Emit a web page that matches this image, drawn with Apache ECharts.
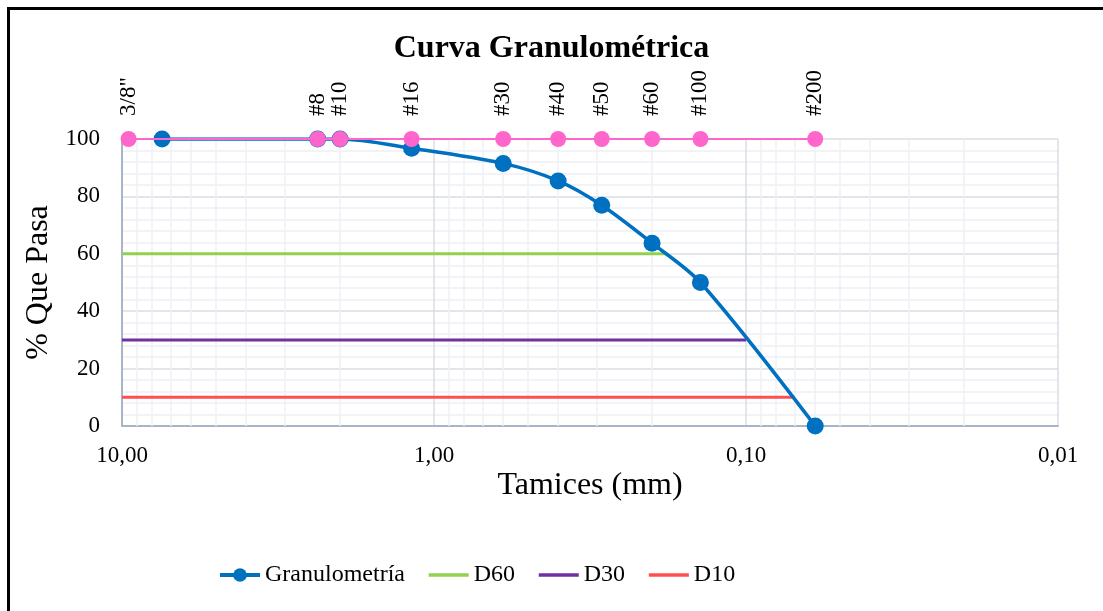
<!DOCTYPE html>
<html>
<head>
<meta charset="utf-8">
<script src="https://cdn.jsdelivr.net/npm/echarts@6/dist/echarts.min.js"></script>
<style>
html, body { margin: 0; padding: 0; background: #fff; }
#chart { width: 1103px; height: 611px; }
</style>
</head>
<body>
<div id="chart"></div>
<script>
// tamices (sieves)
var sieveNames = ['3/8"', '#8', '#10', '#16', '#30', '#40', '#50', '#60', '#100', '#200'];
var sieveSizes = [9.525, 2.36, 2.0, 1.18, 0.60, 0.40, 0.29, 0.20, 0.14, 0.06];

// curva granulometrica
var gradSizes = [7.44, 2.36, 2.0, 1.18, 0.60, 0.40, 0.29, 0.20, 0.14, 0.06];
var gradPassing = [100, 100, 100, 96.8, 91.5, 85.4, 76.9, 63.7, 50.0, 0];

// diametros efectivos
var dNames = ['D60', 'D30', 'D10'];
var dPercent = [60, 30, 10];
var dSizes = [0.179, 0.10, 0.0697];
var dColors = ['#92D050', '#7030A0', '#FF5050'];

var xTicks = [10, 1, 0.1, 0.01];

var font = 'Liberation Serif, Times New Roman, serif';

var chart = echarts.init(document.getElementById('chart'));

// lineas menores del eje log (2..9 por decada)
var minorLines = [];
for (var d = 0; d < xTicks.length - 1; d++) {
	for (var k = 2; k <= 9; k++) {
		minorLines.push({ xAxis: xTicks[d + 1] * k });
	}
}

var series = [];

series.push({
	name: 'grid-minor',
	type: 'line',
	z: 1,
	silent: true,
	data: [[1, -10]],
	showSymbol: false,
	lineStyle: { opacity: 0 },
	markLine: {
		z: 1,
		silent: true,
		symbol: 'none',
		label: { show: false },
		lineStyle: { color: '#eef0f4', width: 1.5, type: 'solid' },
		emphasis: { disabled: true },
		data: minorLines
	}
});

var grad = [];
for (var i = 0; i < gradSizes.length; i++) {
	grad.push([gradSizes[i], gradPassing[i]]);
}
series.push({
	name: 'Granulometría',
	type: 'line',
	smooth: 0.3,
	data: grad,
	symbol: 'circle',
	symbolSize: 17,
	itemStyle: { color: '#0070C0' },
	lineStyle: { color: '#0070C0', width: 3.5 },
	z: 3
});

for (var j = 0; j < dNames.length; j++) {
	series.push({
		name: dNames[j],
		type: 'line',
		data: [[xTicks[0], dPercent[j]], [dSizes[j], dPercent[j]]],
		symbol: 'none',
		itemStyle: { color: dColors[j] },
		lineStyle: { color: dColors[j], width: 3 },
		z: 2
	});
}

var sieves = [];
for (var s = 0; s < sieveSizes.length; s++) {
	sieves.push([sieveSizes[s], 100]);
}
series.push({
	name: 'Tamices',
	type: 'line',
	data: sieves,
	symbol: 'circle',
	symbolSize: 16,
	itemStyle: { color: '#FF66CC' },
	lineStyle: { color: '#FF66CC', width: 2 },
	z: 4,
	label: {
		show: true,
		position: 'top',
		rotate: 90,
		align: 'left',
		verticalAlign: 'middle',
		distance: 15,
		fontFamily: font,
		fontSize: 23,
		color: '#000',
		formatter: function (p) { return sieveNames[p.dataIndex]; }
	}
});

var legendData = [{ name: 'Granulometría', lineStyle: { width: 4 } }];
for (var m = 0; m < dNames.length; m++) {
	legendData.push({ name: dNames[m], itemStyle: { opacity: 0 }, lineStyle: { width: 3.5 } });
}

option = {
	animation: false,
	backgroundColor: '#fff',
	textStyle: { fontFamily: font },
	title: {
		text: 'Curva Granulométrica',
		left: 'center',
		top: 28,
		textStyle: { fontFamily: font, fontSize: 32, fontWeight: 'bold', color: '#000' }
	},
	grid: { left: 122, right: 45, top: 139, bottom: 185, containLabel: false },
	legend: {
		data: legendData,
		left: 213,
		top: 558,
		itemWidth: 40,
		itemHeight: 17,
		itemGap: 22,
		textStyle: { fontFamily: font, fontSize: 24, color: '#000' }
	},
	xAxis: {
		type: 'log',
		logBase: 10,
		min: 0.01,
		max: 10,
		inverse: true,
		name: 'Tamices (mm)',
		nameLocation: 'middle',
		nameGap: 44,
		nameTextStyle: { fontFamily: font, fontSize: 32, color: '#000' },
		axisLine: { show: true, lineStyle: { color: '#a9b4c6', width: 2 } },
		axisTick: { show: false },
		axisLabel: {
			margin: 18,
			fontFamily: font,
			fontSize: 23,
			color: '#000',
			formatter: function (v) { return v.toFixed(2).replace('.', ','); }
		},
		splitLine: { show: true, lineStyle: { color: '#d9dde3', width: 1.5 } }
	},
	yAxis: {
		type: 'value',
		min: 0,
		max: 100,
		interval: 20,
		name: '% Que Pasa',
		nameLocation: 'middle',
		nameGap: 65,
		nameTextStyle: { fontFamily: font, fontSize: 32, color: '#000' },
		axisLine: { show: true, lineStyle: { color: '#a9b4c6', width: 2 } },
		axisTick: { show: false },
		axisLabel: { margin: 22, fontFamily: font, fontSize: 23, color: '#000' },
		splitLine: { show: true, lineStyle: { color: '#d9dde3', width: 1.5 } },
		minorTick: { show: false, splitNumber: 5 },
		minorSplitLine: { show: true, lineStyle: { color: '#eef0f4', width: 1.5 } }
	},
	graphic: [{
		type: 'rect',
		silent: true,
		z: 100,
		shape: { x: 8.5, y: 8.5, width: 1200, height: 800 },
		style: { fill: 'none', stroke: '#000', lineWidth: 3 }
	}],
	series: series
};

chart.setOption(option);
</script>
</body>
</html>
